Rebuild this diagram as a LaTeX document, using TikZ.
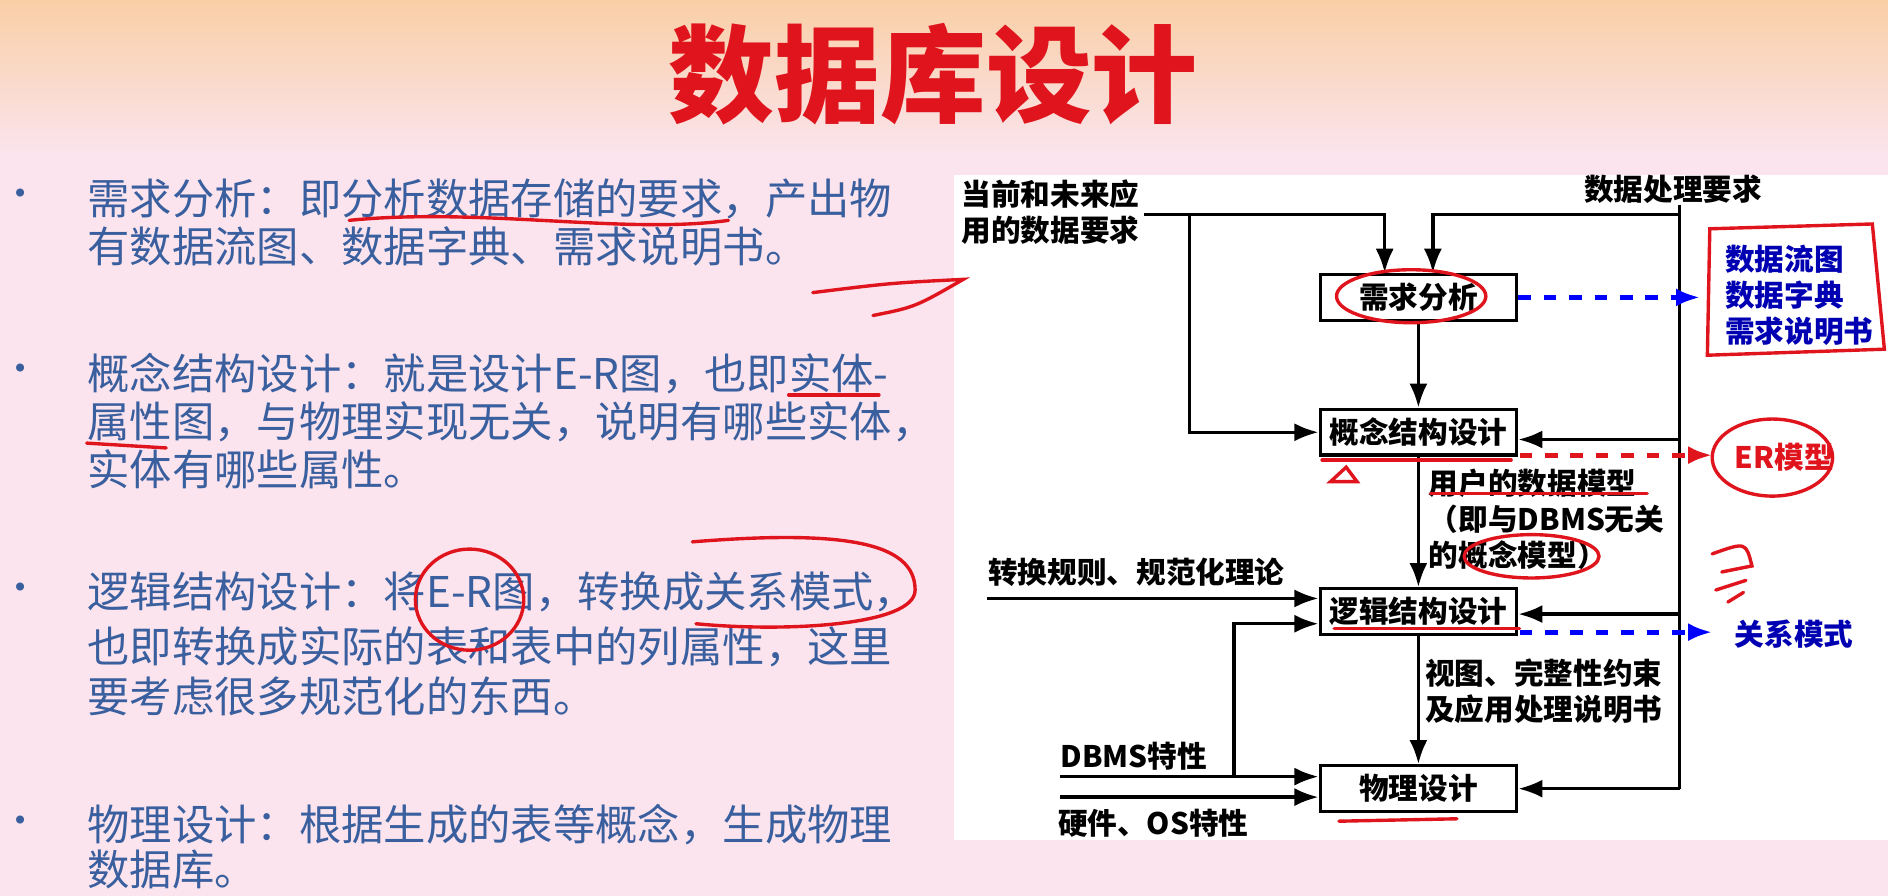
\documentclass[tikz,border=0pt]{standalone}
\usepackage{fontspec}
\setmainfont{Noto Sans CJK SC}
\usetikzlibrary{arrows.meta}
\definecolor{txtblue}{HTML}{3A5F9E}
\definecolor{bgpink}{HTML}{FBE4EE}
\definecolor{bgorange}{HTML}{F9CFA6}
\definecolor{penred}{HTML}{E0141C}
\tikzset{
  stage/.style={draw,thick,minimum width=1.63cm,minimum height=0.38cm,inner sep=0pt,font=\fontsize{7}{8}\selectfont\bfseries},
  lab/.style={font=\fontsize{7}{8.5}\selectfont\bfseries,anchor=west,inner sep=0pt,align=left},
  flow/.style={thick,-{Latex[length=2mm]}},
  dashflow/.style={very thick,dashed,-{Latex[length=2mm]}},
  bullet/.style={font=\fontsize{10}{12}\selectfont,text=txtblue,anchor=west,inner sep=0pt},
  pen/.style={penred,thick,line cap=round}
}
\begin{document}
\begin{tikzpicture}[x=0.01cm,y=-0.01cm]
  \useasboundingbox (0,0) rectangle (1568,744);
  % background
  \fill[bgpink] (0,0) rectangle (1568,744);
  \shade[top color=bgorange,bottom color=bgpink] (0,0) rectangle (1568,130);
  \node[font=\fontsize{25}{28}\selectfont\bfseries,text=penred] (title) at (775,62) {数据库设计};
  % left text
  \foreach \yy/\txt in {165/需求分析：即分析数据存储的要求，产出物,205/有数据流图、数据字典、需求说明书。,
      310/概念结构设计：就是设计E-R图，也即实体-,350/属性图，与物理实现无关，说明有哪些实体，,390/实体有哪些属性。,
      492/逻辑结构设计：将E-R图，转换成关系模式，,537/也即转换成实际的表和表中的列属性，这里,578/要考虑很多规范化的东西。,
      685/物理设计：根据生成的表等概念，生成物理,722/数据库。}
    \node[bullet] at (72,\yy) {\txt};
  \foreach \yy in {165,310,492,685}
    \node[text=txtblue,font=\small] at (17,\yy) {•};
  % diagram panel
  \fill[white] (792,145) rectangle (1568,698);
  \node[stage] (req) at (1178,247) {需求分析};
  \node[stage] (con) at (1178,359) {概念结构设计};
  \node[stage] (log) at (1178,508) {逻辑结构设计};
  \node[stage] (phy) at (1178,655) {物理设计};
  \node[lab] (data) at (798,176) {当前和未来应\\用的数据要求};
  \node[lab] (proc) at (1315,157) {数据处理要求};
  \node[lab] (rule) at (820,475) {转换规则、规范化理论};
  \node[lab] (dbms) at (880,628) {DBMS特性};
  \node[lab] (hw) at (878,684) {硬件、OS特性};
  \node[lab] (umod) at (1186,431) {用户的数据模型\\（即与DBMS无关\\的概念模型）};
  \node[lab] (view) at (1183,574) {视图、完整性约束\\及应用处理说明书};
  \node[lab,text=blue!70!black] (dfd) at (1432,245) {数据流图\\数据字典\\需求说明书};
  \node[lab,text=penred] (erm) at (1440,380) {ER模型};
  \node[lab,text=blue!70!black] (rel) at (1440,527) {关系模式};
  % connectors
  \coordinate (dl) at (950,178);
  \draw[flow] (dl) -| (req.north -| 1150,0);
  \draw[flow] (988,178) |- (con.west);
  \draw[flow] (1395,178) -| (req.north -| 1190,0);
  \draw[thick] (1395,170) -- (1395,655);
  \draw[flow] (1395,365) -- (con.east |- 0,365);
  \draw[flow] (1395,510) -- (log.east |- 0,510);
  \draw[flow] (1395,655) -- (phy.east |- 0,655);
  \draw[flow] (req) -- (con);
  \draw[flow] (con) -- (log);
  \draw[flow] (log) -- (phy);
  \draw[flow] (820,497) -- (log.west |- 0,497);
  \draw[flow] (1025,645) |- (log.west |- 0,518);
  \draw[flow] (880,645) -- (phy.west |- 0,645);
  \draw[flow] (880,662) -- (phy.west |- 0,662);
  \draw[dashflow,blue] (req.east) -- (1412,247);
  \draw[dashflow,penred] (1262,378) -- (1422,378);
  \draw[dashflow,blue] (1262,525) -- (1422,525);
  % handwritten marks
  \draw[pen] (290,183) .. controls (400,172) and (520,195) .. (605,183);
  \draw[pen] (655,328) -- (730,328);
  \draw[pen] (72,368) -- (138,372);
  \draw[pen] (675,243) .. controls (740,235) .. (800,232) .. controls (760,255) .. (725,262);
  \draw[pen] (1172,246) ellipse (62 and 22);
  \draw[pen] (1472,380) ellipse (50 and 32);
  \draw[pen] (390,498) ellipse (45 and 42);
  \draw[pen] (575,450) .. controls (700,440) and (760,450) .. (760,490) .. controls (760,520) and (650,525) .. (578,518);
  \draw[pen] (1420,190) -- (1555,186) -- (1565,290) -- (1418,295) -- cycle;
  \draw[pen] (1098,382) -- (1255,382);
  \draw[pen] (1188,410) -- (1368,410);
  \draw[pen] (1272,462) ellipse (56 and 18);
  \draw[pen] (1108,522) -- (1262,522);
  \draw[pen] (1112,682) -- (1210,680);
  \draw[pen] (1105,400) -- (1118,388) -- (1127,400) -- cycle;
  \draw[pen] (1422,460) .. controls (1450,450) .. (1455,470) -- (1430,475) (1425,490) -- (1450,482) (1435,500) -- (1448,492);
\end{tikzpicture}
\end{document}
